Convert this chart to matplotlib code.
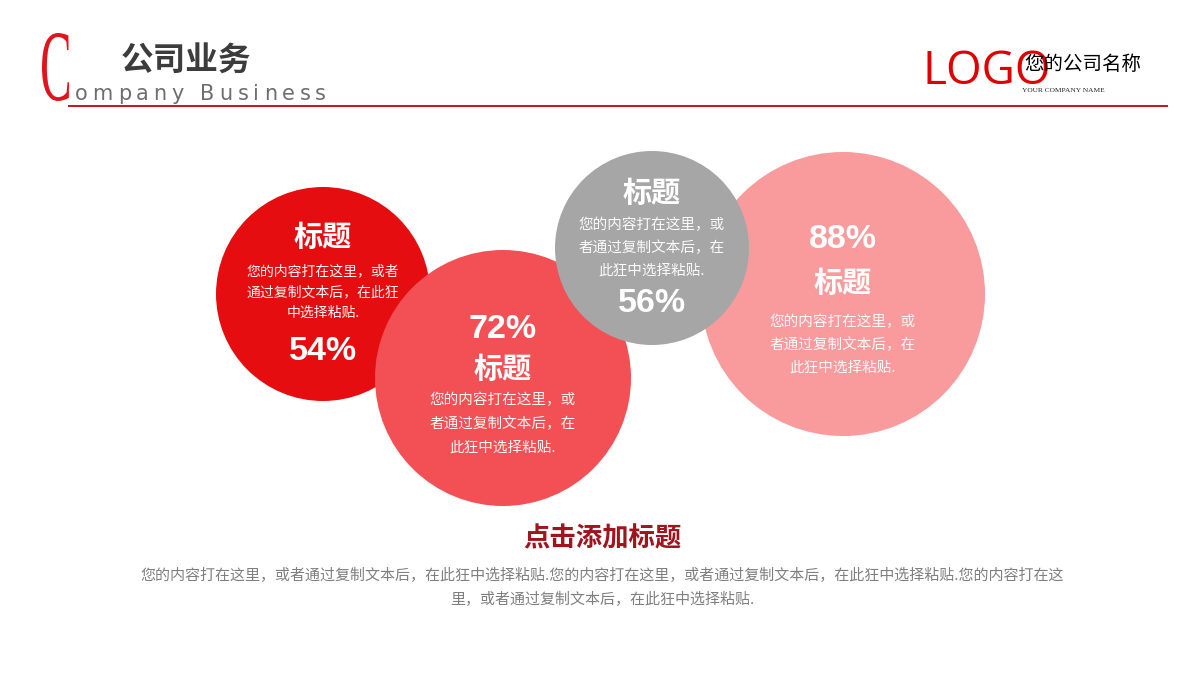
import matplotlib
matplotlib.use("Agg")
import matplotlib.pyplot as plt
from matplotlib.patches import Circle, PathPatch
from matplotlib.textpath import TextPath
from matplotlib.font_manager import FontProperties, findfont
from matplotlib.ft2font import FT2Font
from matplotlib.transforms import Affine2D

# ---------------- data ----------------
circle_titles = ["标题", "标题", "标题", "标题"]
circle_percents = [54, 72, 56, 88]
circle_desc = [
    ["您的内容打在这里，或者", "通过复制文本后，在此狂", "中选择粘贴."],
    ["您的内容打在这里，或", "者通过复制文本后，在", "此狂中选择粘贴."],
    ["您的内容打在这里，或", "者通过复制文本后，在", "此狂中选择粘贴."],
    ["您的内容打在这里，或", "者通过复制文本后，在", "此狂中选择粘贴."],
]
header_cn = "公司业务"
header_en = "ompany Business"
logo_text = "LOGO"
company_cn = "您的公司名称"
company_en = "YOUR COMPANY NAME"
bottom_title = "点击添加标题"
bottom_lines = [
    "您的内容打在这里，或者通过复制文本后，在此狂中选择粘贴.您的内容打在这里，或者通过复制文本后，在此狂中选择粘贴.您的内容打在这",
    "里，或者通过复制文本后，在此狂中选择粘贴.",
]

# ---------------- layout / style ----------------
centers = [(323, 294), (503, 378), (652, 248), (843, 294)]
radii = [107, 128, 97, 142]
colors = ["#E60D10", "#F35055", "#A6A6A6", "#F99A9C"]
zorders = [1, 2, 4, 3]
styles = ["title_desc_pct", "pct_title_desc", "title_desc_pct", "pct_title_desc"]

CJK = ["Noto Sans CJK SC", "DejaVu Sans"]
NUM = ["Liberation Sans", "Noto Sans CJK SC"]

fig = plt.figure(figsize=(12, 6.8), dpi=100)
ax = fig.add_axes([0, 0, 1, 1])
ax.set_xlim(0, 1200)
ax.set_ylim(680, 0)
ax.axis("off")

# header "C"
fp_c = FontProperties(family="Liberation Serif")
tp = TextPath((0, 0), "C", size=100, prop=fp_c)
bb = tp.get_extents()
sx = 27 / bb.width
sy = 68 / bb.height
tr = Affine2D().translate(-bb.x0, -bb.y0).scale(sx, -sy).translate(42, 101)
ax.add_patch(PathPatch(tr.transform_path(tp), color="#E0141B", lw=0))

ax.text(186, 61, header_cn, fontsize=23.5, fontweight="bold", color="#3C3C3C",
        family=CJK, ha="center", va="center")

# tracked English subtitle: true glyph advances + constant tracking
en_size_pt = 15
ft = FT2Font(findfont(FontProperties(family="DejaVu Sans")))
ft.set_size(en_size_pt, 100)
advances = [ft.load_char(ord(ch)).linearHoriAdvance / 65536.0 for ch in header_en]
start, end = 75, 325
last_ink = advances[-1] * 0.9
tracking = (end - start - sum(advances[:-1]) - last_ink) / (len(header_en) - 1)
x = start
for ch, a in zip(header_en, advances):
    ax.text(x, 100, ch, fontsize=en_size_pt, color="#6E6E6E",
            family=["DejaVu Sans"], ha="left", va="baseline")
    x += a + tracking

ax.plot([68, 1168], [106, 106], color="#C8141B", lw=1.4, solid_capstyle="butt")

ax.text(987, 72, logo_text, fontsize=33, color="#E00000", family=["Open Sans"],
        ha="center", va="center")
ax.text(1083, 64, company_cn, fontsize=14, color="#000000", family=CJK,
        ha="center", va="center", fontweight="light")
ax.text(1063, 90, company_en, fontsize=5.3, color="#222222", family=["Liberation Serif"],
        ha="center", va="center")

# circles
for i in range(len(circle_percents)):
    cx, cy = centers[i]
    r = radii[i]
    z = zorders[i]
    ax.add_patch(Circle((cx, cy), r, facecolor=colors[i], edgecolor="none", zorder=z))
    pct = f"{circle_percents[i]}%"
    if styles[i] == "title_desc_pct":
        if i == 0:
            ty, dys, py = cy - 57, [cy - 23, cy - 2, cy + 19], cy + 57
        else:
            ty, dys, py = cy - 55, [cy - 23, cy, cy + 23], cy + 55
        dsize = 10 if i == 0 else 10.5
    else:
        if i == 1:
            py, ty, dys = cy - 49, cy - 9, [cy + 22, cy + 46, cy + 70]
        else:
            py, ty, dys = cy - 54, cy - 11, [cy + 28, cy + 51, cy + 74]
        dsize = 10.5
    ax.text(cx, ty, circle_titles[i], fontsize=21, fontweight="bold", color="white",
            family=CJK, ha="center", va="center", zorder=z)
    for line, dy in zip(circle_desc[i], dys):
        ax.text(cx, dy, line, fontsize=dsize, color="white", family=CJK,
                ha="center", va="center", zorder=z, alpha=0.95)
    ax.text(cx, py, pct, fontsize=24.5, fontweight="bold", color="white",
            family=NUM, ha="center", va="center", zorder=z)

# bottom texts
ax.text(602, 539, bottom_title, fontsize=19, fontweight="bold", color="#A0141E",
        family=CJK, ha="center", va="center")
for line, y in zip(bottom_lines, [575, 599]):
    ax.text(602, y, line, fontsize=10.8, color="#7F7F7F", family=CJK,
            ha="center", va="center")

fig.savefig("out.png", dpi=100)
